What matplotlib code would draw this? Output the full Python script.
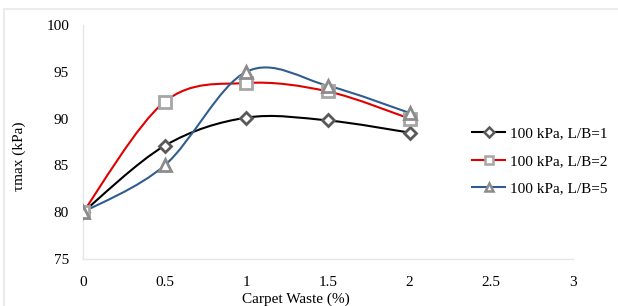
import matplotlib
matplotlib.use("Agg")
import matplotlib.pyplot as plt
import numpy as np
from matplotlib.path import Path
from matplotlib.patches import PathPatch
from matplotlib.lines import Line2D

carpet_waste = [0, 0.5, 1, 1.5, 2]
lb1 = [80.0, 87.1, 90.1, 89.8, 88.5]
lb2 = [80.0, 91.8, 93.8, 92.9, 90.0]
lb5 = [80.0, 85.0, 95.0, 93.5, 90.6]
labels = ["100 kPa, L/B=1", "100 kPa, L/B=2", "100 kPa, L/B=5"]
x_ticks = [0, 0.5, 1, 1.5, 2, 2.5, 3]
y_ticks = [75, 80, 85, 90, 95, 100]

plt.rcParams['font.family'] = ['Liberation Serif', 'DejaVu Serif']

fig = plt.figure(figsize=(6.18, 3.06), dpi=100)
ax = fig.add_axes([83/618, 1-259/306, (573-83)/618, (259-25)/306])

def smooth_path(x, y):
    pts = np.column_stack([x, y]).astype(float)
    n = len(pts)
    verts = [pts[0]]
    codes = [Path.MOVETO]
    for i in range(n-1):
        p0 = pts[i-1] if i > 0 else pts[i]
        p1 = pts[i]
        p2 = pts[i+1]
        p3 = pts[i+2] if i+2 < n else pts[i+1]
        c1 = p1 + (p2 - p0) / 6.0
        c2 = p2 - (p3 - p1) / 6.0
        verts += [c1, c2, p2]
        codes += [Path.CURVE4]*3
    return Path(verts, codes)

series = [
    (lb1, '#000000', 'D', '#595959', 6),
    (lb2, '#e00000', 's', '#a6a6a6', 8),
    (lb5, '#2f5d8f', '^', '#8c8c8c', 8),
]
handles = []
for (vals, lc, mk, mc, ms), lab in zip(series, labels):
    patch = PathPatch(smooth_path(carpet_waste, vals), facecolor='none',
                      edgecolor=lc, lw=1.5, transform=ax.transData, zorder=2)
    ax.add_patch(patch)
    ax.plot(carpet_waste, vals, linestyle='none', marker=mk, markersize=ms,
            markerfacecolor='white', markeredgecolor=mc, markeredgewidth=2, zorder=3)
    handles.append(Line2D([], [], color=lc, lw=1.5, marker=mk, markersize=ms*0.8,
                          markerfacecolor='white', markeredgecolor=mc, markeredgewidth=1.8))

ax.set_xlim(0, 3)
ax.set_ylim(75, 100)
ax.set_xticks(x_ticks)
ax.set_xticklabels([f"{v:g}" for v in x_ticks])
ax.set_yticks(y_ticks)
for s in ['top', 'right']:
    ax.spines[s].set_visible(False)
for s in ['left', 'bottom']:
    ax.spines[s].set_color('#e6e6e6')
    ax.spines[s].set_linewidth(1)
ax.tick_params(length=0, labelsize=11, pad=12)
ax.tick_params(axis='y', pad=10)
ax.set_xlabel("Carpet Waste (%)", fontsize=11)
ax.xaxis.set_label_coords((296-83)/(573-83), -0.145)
ax.set_ylabel("τmax (kPa)", fontsize=11)
ax.yaxis.set_label_coords((26-83)/(573-83), (259-156)/(259-25))

leg = fig.legend(handles, labels, loc='center left', bbox_to_anchor=(458/618, 1-161/306),
                 frameon=False, fontsize=11, handlelength=2.2, handletextpad=0.3,
                 labelspacing=0.9)

fig.add_artist(Line2D([4/618, 1], [1-9/306, 1-9/306], color='#ececec', lw=1.5,
                      transform=fig.transFigure))
fig.add_artist(Line2D([4/618, 4/618], [0, 1-9/306], color='#ececec', lw=1.5,
                      transform=fig.transFigure))

fig.savefig("out.png", dpi=100)
